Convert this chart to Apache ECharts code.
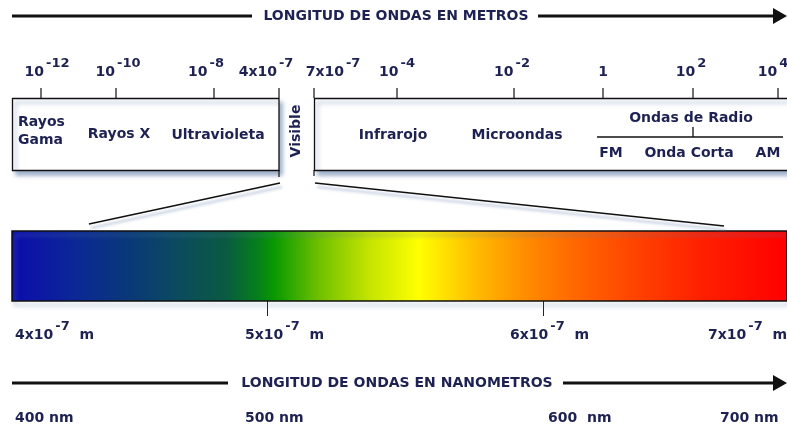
<!DOCTYPE html>
<html><head><meta charset="utf-8">
<script src="https://cdn.jsdelivr.net/npm/echarts@6/dist/echarts.min.js"></script>
<style>html,body{margin:0;padding:0;background:#fff}#c{width:787px;height:432px}</style>
</head><body><div id="c"></div>
<script>
// ---------------- data ----------------
const titleTop = 'LONGITUD DE ONDAS EN METROS';
const titleBottom = 'LONGITUD DE ONDAS EN NANOMETROS';
const topTickBase = ['10', '10', '10', '4x10', '7x10', '10', '10', '1', '10', '10'];
const topTickExp  = ['-12', '-10', '-8', '-7', '-7', '-4', '-2', '', '2', '4'];
const leftBands = ['Rayos\nGama', 'Rayos X', 'Ultravioleta'];
const visibleBand = 'Visible';
const rightBands = ['Infrarojo', 'Microondas'];
const radioBand = 'Ondas de Radio';
const radioSubBands = ['FM', 'Onda Corta', 'AM'];
const spectrumRangeNm = [407.6, 688.4];
const gradientNm = [407.6, 430, 450, 467, 485, 497, 503, 519, 537, 555, 574, 592, 610, 635, 657, 688.4];
const gradientColors = ['#0c0cae', '#0b2797', '#0a3878', '#0b4a60', '#0a5a42', '#06801a', '#0a9a00', '#70c000', '#c4e400', '#ffff00', '#ffc000', '#ff9000', '#ff6a00', '#ff4000', '#ff2000', '#ff0000'];
const meterTicksNm = [500, 600];
const meterLabelNm = [400, 500, 600, 700];
const meterLabelMant = ['4x10', '5x10', '6x10', '7x10'];
const meterLabelExp = ['-7', '-7', '-7', '-7'];
const nmLabelNm = [400, 500, 600, 700];
const nmLabels = ['400 nm', '500 nm', '600  nm', '700 nm'];

// ---------------- layout (schematic positions, not data) ----------------
const LAYOUT = {
  topTickX: [41, 116, 214, 279, 314, 397, 514, 603, 693, 778],
  topLabelX: [47, 118, 206, 266, 333, 397, 512, 603, 691, 773],
  leftBandX: [18, 119, 218], leftBandY: [131, 134, 135],
  rightBandX: [393, 517], radioX: 691,
  radioSubX: [611, 689, 768],
  meterDx: [24, -22, -33, -111],
  nmDx: [24, -22, 5, -99]
};
const INK = '#1d2252';
const FONT = 'DejaVu Sans';
const FS = 14;

const chart = echarts.init(document.getElementById('c'), null, {renderer: 'canvas'});

function renderSpectrum(params, api) {
  const a = api.coord([api.value(0), 1]);
  const b = api.coord([api.value(1), 0]);
  const span = spectrumRangeNm[1] - spectrumRangeNm[0];
  const stops = gradientNm.map((nm, i) => ({offset: (nm - spectrumRangeNm[0]) / span, color: gradientColors[i]}));
  return {
    type: 'rect',
    shape: {x: a[0], y: a[1], width: b[0] - a[0], height: b[1] - a[1]},
    style: {
      fill: new echarts.graphic.LinearGradient(0, 0, 1, 0, stops),
      stroke: '#111', lineWidth: 1.5,
      shadowBlur: 4, shadowOffsetX: 3, shadowOffsetY: 4, shadowColor: 'rgba(90,120,165,0.55)'
    }
  };
}

chart.setOption({
  animation: false,
  backgroundColor: '#fff',
  grid: {left: 12, right: 0, top: 231, height: 70, containLabel: false},
  xAxis: {
    type: 'value', min: spectrumRangeNm[0], max: spectrumRangeNm[1],
    axisLine: {show: false}, splitLine: {show: false}, axisLabel: {show: false},
    axisTick: {show: true, customValues: meterTicksNm, length: 15, lineStyle: {color: '#222', width: 1}}
  },
  yAxis: {type: 'value', min: 0, max: 1, show: false},
  series: [{
    type: 'custom', renderItem: renderSpectrum, clip: false,
    encode: {x: [0, 1]},
    data: [[spectrumRangeNm[0], spectrumRangeNm[1]]]
  }]
});

// ---------------- diagram graphics ----------------
const g = [];
const shadow = {shadowBlur: 4, shadowOffsetX: 3, shadowOffsetY: 4, shadowColor: 'rgba(90,120,165,0.55)'};
function txt(x, y, text, opt) {
  g.push(Object.assign({type: 'text', x: x, y: y, z: 10,
    style: Object.assign({text: text, fill: INK, font: 'bold ' + FS + 'px "' + FONT + '"', align: 'center', verticalAlign: 'middle'}, opt || {})}));
}
function line(x1, y1, x2, y2, w, extra) {
  g.push({type: 'line', z: 5, shape: {x1, y1, x2, y2}, style: Object.assign({stroke: '#111', lineWidth: w || 1}, extra || {})});
}
function arrow(y, x1, x2, x3) {
  line(12, y, x1, y, 3);
  line(x2, y, x3, y, 3);
  g.push({type: 'polygon', z: 5, shape: {points: [[787, y], [773, y - 8], [773, y + 8]]}, style: {fill: '#111'}});
}
const rich = {
  b: {fontSize: FS, fontWeight: 'bold', fontFamily: FONT, fill: INK, color: INK, lineHeight: 22, verticalAlign: 'bottom'},
  s: {fontSize: 13, fontWeight: 'bold', fontFamily: FONT, fill: INK, color: INK, lineHeight: 22, verticalAlign: 'top', padding: [0, 0, 0, 2]}
};

// top arrow + title
arrow(16, 252, 538, 776);
txt(396, 16, titleTop);

// top scale ticks and labels
topTickBase.forEach((b, i) => {
  line(LAYOUT.topTickX[i], 88, LAYOUT.topTickX[i], 98, 1.2);
  g.push({type: 'text', x: LAYOUT.topLabelX[i], y: 68, z: 10,
    style: {text: '{b|' + b + '}' + (topTickExp[i] ? '{s|' + topTickExp[i] + '}' : ''), rich: rich, align: 'center', verticalAlign: 'middle'}});
});

// boxes
g.push({type: 'rect', z: 4, shape: {x: 12.5, y: 98.5, width: 266.5, height: 72}, style: Object.assign({fill: '#fff', stroke: '#111', lineWidth: 1.3}, shadow)});
g.push({type: 'rect', z: 4, shape: {x: 314.5, y: 98.5, width: 490, height: 72}, style: Object.assign({fill: '#fff', stroke: '#111', lineWidth: 1.3}, shadow)});

// band labels
leftBands.forEach((t, i) => txt(LAYOUT.leftBandX[i], LAYOUT.leftBandY[i], t, i === 0 ? {align: 'left', lineHeight: 18} : {}));
txt(296, 131, visibleBand, {});
g[g.length - 1].rotation = Math.PI / 2;
rightBands.forEach((t, i) => txt(LAYOUT.rightBandX[i], 135, t));
txt(LAYOUT.radioX, 118, radioBand);
line(597, 137, 783, 137, 1.3);
line(693, 127, 693, 137, 1.3);
radioSubBands.forEach((t, i) => txt(LAYOUT.radioSubX[i], 153, t));

// zoom lines to visible spectrum
line(279, 170, 279, 177, 1.2);
line(314, 170, 314, 176, 1.2);
line(280, 183, 89, 224, 1.5, {shadowBlur: 3, shadowOffsetX: 2, shadowOffsetY: 4, shadowColor: 'rgba(90,120,165,0.5)'});
line(315, 183, 724, 226, 1.5, {shadowBlur: 3, shadowOffsetX: 2, shadowOffsetY: 4, shadowColor: 'rgba(90,120,165,0.5)'});

// bottom arrow + title
arrow(383, 228, 563, 776);
txt(397, 383, titleBottom);

// meter labels and nm labels positioned through the nm axis
meterLabelNm.forEach((nm, i) => {
  const px = chart.convertToPixel({xAxisIndex: 0}, nm);
  g.push({type: 'text', x: px + LAYOUT.meterDx[i], y: 331, z: 10,
    style: {text: '{b|' + meterLabelMant[i] + '}{s|' + meterLabelExp[i] + '}{b|  m}', rich: rich, align: 'left', verticalAlign: 'middle'}});
});
nmLabelNm.forEach((nm, i) => {
  const px = chart.convertToPixel({xAxisIndex: 0}, nm);
  txt(px + LAYOUT.nmDx[i], 418, nmLabels[i], {align: 'left'});
});

chart.setOption({graphic: g});
</script></body></html>
